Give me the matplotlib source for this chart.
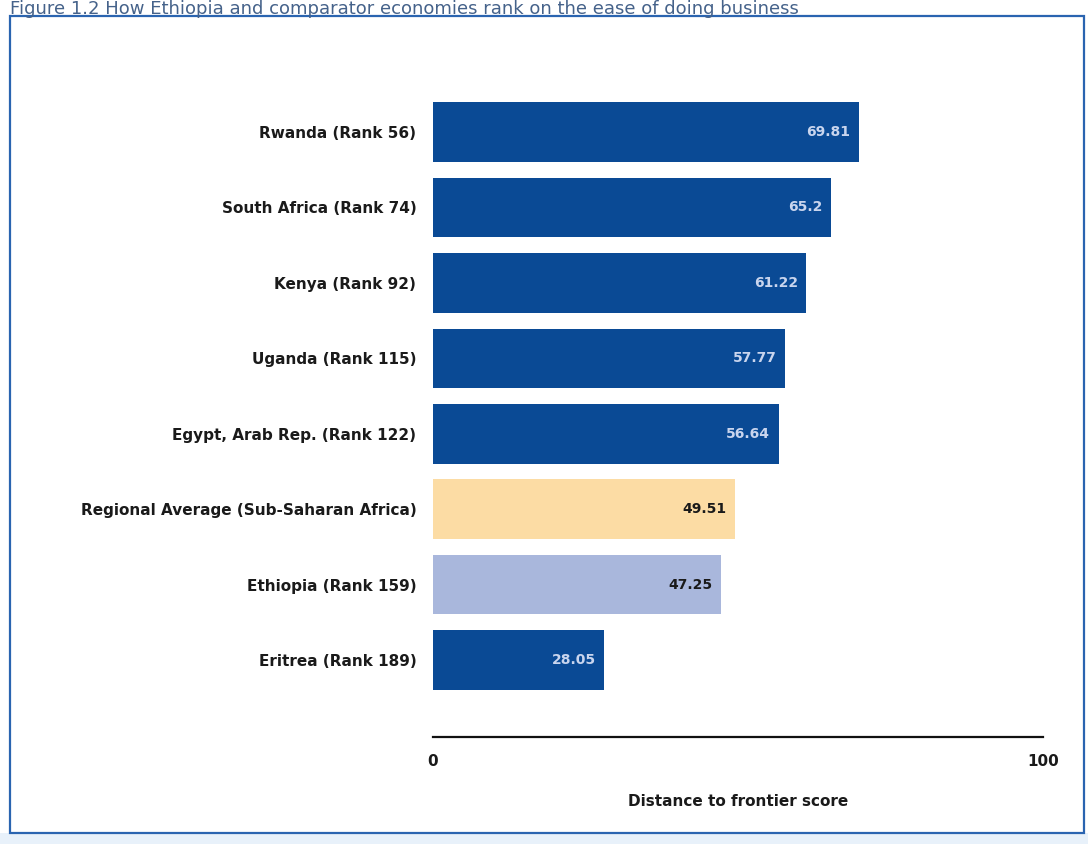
import matplotlib.pyplot as plt
from matplotlib.patches import Rectangle

# data
countries = ["Rwanda (Rank 56)", "South Africa (Rank 74)", "Kenya (Rank 92)",
             "Uganda (Rank 115)", "Egypt, Arab Rep. (Rank 122)",
             "Regional Average (Sub-Saharan Africa)", "Ethiopia (Rank 159)",
             "Eritrea (Rank 189)"]
scores = [69.81, 65.2, 61.22, 57.77, 56.64, 49.51, 47.25, 28.05]
value_labels = ["69.81", "65.2", "61.22", "57.77", "56.64", "49.51", "47.25", "28.05"]
group = ["comp", "comp", "comp", "comp", "comp", "region", "ethiopia", "comp"]

bar_colors = {"comp": "#0a4a95", "region": "#fcdca4", "ethiopia": "#a9b7dc"}
text_colors = {"comp": "#c9d5ee", "region": "#1a1a1a", "ethiopia": "#1a1a1a"}

W, H = 1088, 844
fig = plt.figure(figsize=(W / 100, H / 100), dpi=100)
fig.patch.set_facecolor("white")

# frame around the figure
fig.patches.append(Rectangle((0, 0), 1, 11 / H, transform=fig.transFigure,
                             facecolor="#e8f1fa", edgecolor="none", zorder=-2))
fig.patches.append(Rectangle((10 / W, 11 / H), 1074 / W, (H - 16 - 11) / H,
                             transform=fig.transFigure, facecolor="none",
                             edgecolor="#2a64b0", lw=1.6, zorder=-1))

fig.text(10 / W, 1 - 14 / H,
         "Figure 1.2 How Ethiopia and comparator economies rank on the ease of doing business",
         fontsize=13, color="#45628a", ha="left", va="baseline")

ax = fig.add_axes([433 / W, 1 - 737 / H, 610 / W, (737 - 90) / H])
ax.set_facecolor("none")

pos = list(range(len(countries)))
ax.barh(pos, scores, height=0.79, color=[bar_colors[g] for g in group], zorder=2)

for p, v, lab, g in zip(pos, scores, value_labels, group):
    ax.text(v - 1.4, p, lab, ha="right", va="center", fontsize=10,
            fontweight="bold", color=text_colors[g], zorder=3)

ax.set_xlim(0, 100)
ax.set_ylim(8.02, -0.557)
ax.set_yticks(pos)
ax.set_yticklabels(countries, fontsize=11, fontweight="bold", color="#1a1a1a")
ax.set_xticks([0, 100])
ax.set_xticklabels(["0", "100"], fontsize=11, fontweight="bold", color="#1a1a1a")
ax.tick_params(axis="y", length=0, pad=12)
ax.tick_params(axis="x", length=0, pad=12)

for s in ["top", "right", "left"]:
    ax.spines[s].set_visible(False)
ax.spines["bottom"].set_linewidth(1.6)
ax.spines["bottom"].set_color("#111111")

ax.set_xlabel("Distance to frontier score", fontsize=11, fontweight="bold",
              color="#1a1a1a", labelpad=18)

fig.savefig("out.png", dpi=100)
